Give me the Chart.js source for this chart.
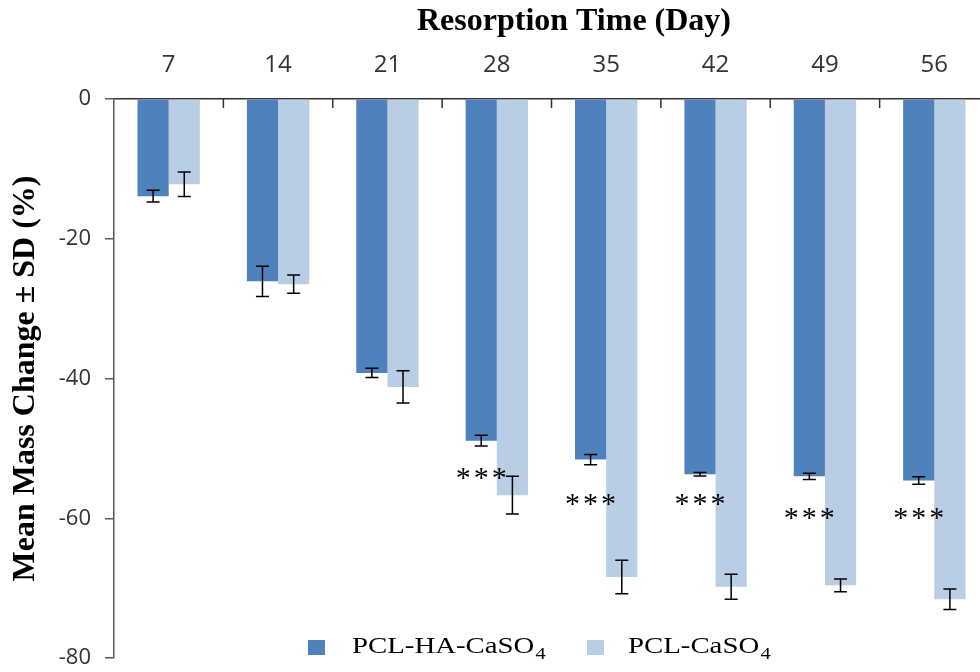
<!DOCTYPE html>
<html><head><meta charset="utf-8">
<script src="https://cdn.jsdelivr.net/npm/chart.js@4.4.1/dist/chart.umd.min.js"></script>
<style>html,body{margin:0;padding:0;background:#fff;overflow:hidden;} #wrap{width:1000px;height:672px;}</style>
</head><body><div id="wrap"><canvas id="c" width="1000" height="672"></canvas></div>
<script>
const days = ['7','14','21','28','35','42','49','56'];
const seriesNames = ['PCL-HA-CaSO₄', 'PCL-CaSO₄'];
const pclHaCaso4 = [-13.9, -26.1, -39.2, -48.9, -51.6, -53.7, -54.0, -54.6];
const pclHaCaso4Sd = [0.84, 2.15, 0.67, 0.77, 0.74, 0.26, 0.44, 0.54];
const pclCaso4 = [-12.2, -26.5, -41.2, -56.7, -68.4, -69.8, -69.6, -71.6];
const pclCaso4Sd = [1.76, 1.3, 2.3, 2.7, 2.4, 1.8, 0.92, 1.46];
const sigLabels = ['', '', '', '***', '***', '***', '***', '***'];
const sigY = [null, null, null, -53.75, -57.6, -57.6, -59.6, -59.6];
const yMin = -80, yMax = 0, yStep = 20;
const xTitle = 'Resorption Time (Day)';
const yTitle = 'Mean Mass Change ± SD (%)';
const colors = ['#4F81BD', '#B9CDE5'];

const errorBars = {
  id: 'errorBars',
  afterDatasetsDraw(chart) {
    const ctx = chart.ctx, ys = chart.scales.y;
    const sds = [pclHaCaso4Sd, pclCaso4Sd];
    ctx.save();
    ctx.strokeStyle = '#000';
    ctx.lineWidth = 1.5;
    chart.data.datasets.forEach((ds, i) => {
      const meta = chart.getDatasetMeta(i);
      meta.data.forEach((bar, j) => {
        const v = ds.data[j], sd = sds[i][j];
        const x = bar.x;
        const y1 = ys.getPixelForValue(v + sd), y2 = ys.getPixelForValue(v - sd);
        const w = 6.5;
        ctx.beginPath();
        ctx.moveTo(x, y1); ctx.lineTo(x, y2);
        ctx.moveTo(x - w, y1); ctx.lineTo(x + w, y1);
        ctx.moveTo(x - w, y2); ctx.lineTo(x + w, y2);
        ctx.stroke();
      });
    });
    // significance marks, centred under the PCL-HA-CaSO4 bar
    const meta0 = chart.getDatasetMeta(0);
    ctx.fillStyle = '#000';
    ctx.font = '30px "Liberation Serif"';
    ctx.textAlign = 'center';
    ctx.textBaseline = 'alphabetic';
    try { ctx.letterSpacing = '3px'; } catch (e) {}
    sigLabels.forEach((s, j) => {
      if (!s || sigY[j] == null) return;
      const x = meta0.data[j].x + 1.5;
      const y = ys.getPixelForValue(sigY[j]) + 12;
      ctx.fillText(s, x, y);
    });
    ctx.restore();
  },
  afterDraw(chart) {
    const ctx = chart.ctx, xs = chart.scales.x, top = chart.chartArea.top;
    ctx.save();
    // inward category tick marks
    ctx.strokeStyle = '#333';
    ctx.lineWidth = 1.5;
    ctx.beginPath();
    for (let i = 1; i < days.length; i++) {
      const px = (xs.getPixelForValue(i - 1) + xs.getPixelForValue(i)) / 2;
      ctx.moveTo(px, top); ctx.lineTo(px, top + 9);
    }
    ctx.stroke();
    // axis title on top
    ctx.fillStyle = '#000';
    ctx.font = 'bold 32px "Liberation Serif"';
    ctx.textAlign = 'center';
    ctx.textBaseline = 'alphabetic';
    ctx.fillText(xTitle, 574, 30);
    // legend
    const items = [{x: 308, tx: 352}, {x: 587, tx: 628}];
    seriesNames.forEach((name, i) => {
      ctx.fillStyle = colors[i];
      ctx.fillRect(items[i].x, 640, 17, 15);
      const parts = name.split('₄');
      ctx.save();
      ctx.translate(items[i].tx, 653);
      ctx.scale(1.2, 1);
      ctx.fillStyle = '#000';
      ctx.textAlign = 'left';
      ctx.font = '24px "Liberation Serif"';
      ctx.fillText(parts[0], 0, 0);
      const w = ctx.measureText(parts[0]).width;
      ctx.font = '17px "Liberation Serif"';
      ctx.fillText('4', w + 1, 6);
      ctx.restore();
    });
    ctx.restore();
  }
};

new Chart(document.getElementById('c'), {
  type: 'bar',
  data: {
    labels: days,
    datasets: [
      {label: seriesNames[0], data: pclHaCaso4, backgroundColor: colors[0], borderWidth: 0, categoryPercentage: 0.57, barPercentage: 1.0},
      {label: seriesNames[1], data: pclCaso4, backgroundColor: colors[1], borderWidth: 0, categoryPercentage: 0.57, barPercentage: 1.0}
    ]
  },
  options: {
    responsive: false,
    animation: false,
    devicePixelRatio: 1,
    layout: {padding: {left: 0, right: 11, top: 0, bottom: 14}},
    plugins: {legend: {display: false}, tooltip: {enabled: false}, title: {display: false}},
    scales: {
      x: {
        position: 'top',
        offset: true,
        grid: {display: false, drawTicks: false},
        border: {display: true, color: '#333', width: 1.5},
        ticks: {padding: 19, color: '#333', maxRotation: 0, font: {family: "'Open Sans'", size: 24}},
        afterFit(s) { s.height = 99; s.paddingLeft = 0; s.paddingRight = 0; }
      },
      y: {
        min: yMin, max: yMax,
        ticks: {stepSize: yStep, padding: 14, color: '#333', font: {family: "'Open Sans'", size: 22}},
        grid: {drawOnChartArea: false, drawTicks: true, tickLength: 9, color: '#595959', lineWidth: 1.5},
        border: {display: true, color: '#595959', width: 1.5},
        title: {display: true, text: yTitle, color: '#000', padding: {top: 7, bottom: 0}, font: {family: "'Liberation Serif'", size: 32, weight: 'bold'}},
        afterFit(s) { s.width = 114; s.paddingTop = 0; s.paddingBottom = 0; }
      }
    }
  },
  plugins: [errorBars]
});
</script>
</body></html>
